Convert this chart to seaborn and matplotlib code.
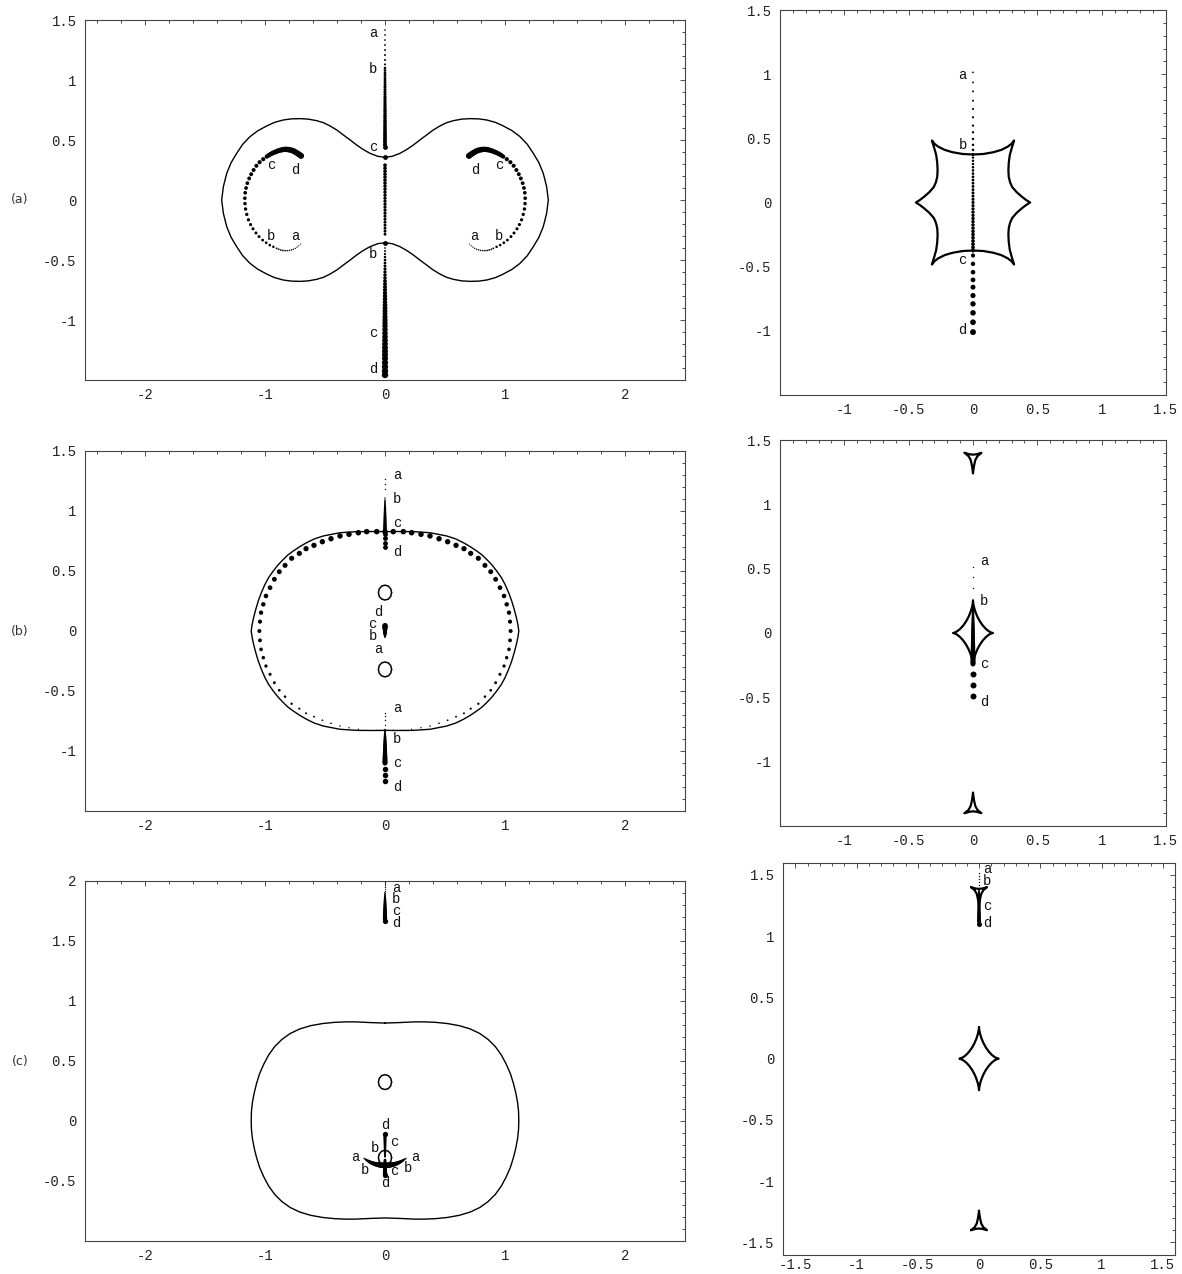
import numpy as np
import matplotlib
matplotlib.use("Agg")
import matplotlib.pyplot as plt
import seaborn as sns
from matplotlib.ticker import FixedLocator, FixedFormatter, MultipleLocator

# ---------------------------------------------------------------- data
# (a) left: critical curve, first quadrant (mirrored to the other three)
crit_a_qx = [0.0, 0.06, 0.125, 0.18, 0.236, 0.29, 0.347, 0.40, 0.458, 0.51, 0.569, 0.64, 0.708,
             0.78, 0.847, 0.92, 0.986, 1.06, 1.125, 1.185, 1.236, 1.283, 1.319, 1.347, 1.361]
crit_a_qy = [0.356, 0.364, 0.389, 0.42, 0.458, 0.50, 0.542, 0.582, 0.617, 0.643, 0.661, 0.674, 0.678,
             0.676, 0.667, 0.647, 0.617, 0.577, 0.528, 0.465, 0.389, 0.31, 0.222, 0.111, 0.0]
# (a) left: vertical image track
la_top_y = [1.417, 1.375, 1.333, 1.292, 1.25, 1.208, 1.167, 1.13]
la_b_y = [1.10, 1.08, 1.06, 1.04, 1.02, 1.0, 0.98, 0.96, 0.94, 0.92, 0.90, 0.88, 0.86, 0.84, 0.82, 0.80,
          0.78, 0.76, 0.74, 0.72, 0.70, 0.68, 0.66, 0.64, 0.62, 0.60, 0.58, 0.56, 0.54, 0.52, 0.50, 0.48, 0.46]
la_c_y = [0.44, 0.356, -0.356]
la_mid_y = [-0.285, -0.26, -0.235, -0.21, -0.185, -0.16, -0.135, -0.11, -0.085, -0.06, -0.035, -0.01,
            0.015, 0.04, 0.065, 0.09, 0.115, 0.14, 0.165, 0.19, 0.215, 0.24, 0.265, 0.29]
la_low_y = [-0.40, -0.425, -0.45, -0.475, -0.50, -0.525, -0.55, -0.575, -0.60, -0.625, -0.65, -0.675,
            -0.70, -0.725, -0.75, -0.775, -0.80, -0.825, -0.85, -0.875, -0.90, -0.925, -0.95, -0.975,
            -1.0, -1.025, -1.05, -1.08, -1.11, -1.14, -1.17, -1.20, -1.23, -1.26, -1.29, -1.32, -1.355,
            -1.39, -1.425, -1.458]
# (a) left: arc of images (right one; left one is its mirror)
arc_ab_x = [0.703, 0.718, 0.733, 0.748, 0.764, 0.780, 0.797, 0.815, 0.833, 0.851, 0.868, 0.886, 0.903]
arc_ab_y = [-0.367, -0.381, -0.393, -0.403, -0.411, -0.416, -0.420, -0.422, -0.422, -0.421, -0.417, -0.411, -0.403]
arc_bc_x = [0.930, 0.960, 0.990, 1.020, 1.050, 1.075, 1.100, 1.120, 1.138, 1.152, 1.162, 1.167, 1.168,
            1.165, 1.158, 1.147, 1.132, 1.115, 1.095, 1.072, 1.045, 1.015, 0.985]
arc_bc_y = [-0.390, -0.376, -0.356, -0.334, -0.305, -0.275, -0.240, -0.205, -0.165, -0.120, -0.075, -0.030,
            0.015, 0.060, 0.100, 0.140, 0.180, 0.215, 0.250, 0.285, 0.315, 0.340, 0.362]
arc_cd_x = [0.970, 0.955, 0.940, 0.925, 0.910, 0.895, 0.880, 0.865, 0.850, 0.835, 0.820, 0.805, 0.790,
            0.775, 0.760, 0.745, 0.730, 0.715, 0.700]
arc_cd_y = [0.372, 0.381, 0.389, 0.396, 0.402, 0.408, 0.413, 0.417, 0.420, 0.422, 0.422, 0.420, 0.417,
            0.413, 0.407, 0.398, 0.389, 0.379, 0.368]
la_labels = [("a", -0.10, 1.39), ("b", -0.10, 1.088), ("c", -0.10, 0.442), ("b", -0.10, -0.454),
             ("c", -0.10, -1.108), ("d", -0.10, -1.408),
             ("a", 0.744, -0.30), ("b", 0.95, -0.30), ("d", 0.75, 0.25), ("c", 0.95, 0.29),
             ("a", -0.744, -0.30), ("b", -0.95, -0.30), ("d", -0.75, 0.25), ("c", -0.95, 0.29)]

# (a) right: six-cusped caustic, first quadrant
caus_a_qx = [0.0, 0.08, 0.16, 0.22, 0.27, 0.30, 0.319, 0.300, 0.286, 0.278, 0.275, 0.278, 0.288, 0.305,
             0.34, 0.38, 0.415, 0.444]
caus_a_qy = [0.374, 0.378, 0.392, 0.41, 0.435, 0.458, 0.483, 0.42, 0.37, 0.31, 0.25, 0.20, 0.158, 0.12,
             0.08, 0.045, 0.018, 0.0]
ra_top_y = [1.014, 0.936, 0.866, 0.793, 0.729, 0.664, 0.599, 0.547, 0.495, 0.449, 0.41]
ra_mid_y = [0.375, 0.35, 0.325, 0.30, 0.275, 0.25, 0.225, 0.20, 0.175, 0.15, 0.125, 0.10, 0.075, 0.05,
            0.025, 0.0, -0.025, -0.05, -0.075, -0.10, -0.125, -0.15, -0.175, -0.20, -0.225, -0.25,
            -0.275, -0.30, -0.325, -0.35, -0.375]
ra_low_y = [-0.413, -0.478, -0.543, -0.603, -0.66, -0.725, -0.79, -0.86, -0.933, -1.01]
ra_labels = [("a", -0.08, 0.996), ("b", -0.08, 0.451), ("c", -0.08, -0.446), ("d", -0.08, -0.996)]

# (b) left
crit_b_qx = [0.0, 0.1, 0.236, 0.375, 0.514, 0.59, 0.653, 0.71, 0.764, 0.81, 0.847, 0.89, 0.931, 0.97,
             1.0, 1.03, 1.056, 1.077, 1.095, 1.108, 1.115]
crit_b_qy = [0.828, 0.829, 0.828, 0.819, 0.792, 0.767, 0.736, 0.703, 0.667, 0.633, 0.597, 0.552, 0.5,
             0.445, 0.389, 0.32, 0.25, 0.18, 0.111, 0.05, 0.0]
ring_qx = [0.0, 0.069, 0.153, 0.222, 0.300, 0.375, 0.450, 0.522, 0.592, 0.658, 0.714, 0.778, 0.833,
           0.881, 0.922, 0.958, 0.992, 1.014, 1.033, 1.042, 1.047]
ring_qy = [0.828, 0.828, 0.828, 0.819, 0.806, 0.792, 0.769, 0.744, 0.714, 0.686, 0.647, 0.606, 0.547,
           0.494, 0.431, 0.361, 0.292, 0.222, 0.153, 0.078, 0.0]
oval_dx = [0.055, 0.048, 0.028, 0.0, -0.028, -0.048, -0.055, -0.048, -0.028, 0.0, 0.028, 0.048, 0.055]
oval_dy = [0.0, 0.031, 0.054, 0.062, 0.054, 0.031, 0.0, -0.031, -0.054, -0.062, -0.054, -0.031, 0.0]
lb_oval_cy = [0.32, -0.32]
lb_up_tiny = [1.264, 1.222, 1.18]
lb_up_wedge = [1.11, 1.10, 1.09, 1.08, 1.07, 1.06, 1.05, 1.04, 1.03, 1.02, 1.01, 1.0, 0.99, 0.98, 0.97,
               0.96, 0.95, 0.94, 0.93, 0.92, 0.91, 0.90, 0.89, 0.88, 0.87, 0.86, 0.85, 0.84]
lb_up_big = [0.806, 0.772, 0.736, 0.70]
lb_lo_tiny = [-0.68, -0.71, -0.745, -0.78]
lb_lo_wedge = [-0.82, -0.83, -0.84, -0.85, -0.86, -0.87, -0.88, -0.89, -0.90, -0.91, -0.92, -0.93, -0.94,
               -0.95, -0.96, -0.97, -0.98, -0.99, -1.0, -1.01, -1.02, -1.03, -1.04, -1.05, -1.06, -1.07,
               -1.08, -1.09, -1.10]
lb_lo_big = [-1.15, -1.20, -1.253]
lb_drop = [-0.055, -0.05, -0.045, -0.04, -0.035, -0.03, -0.025, -0.02, -0.015, -0.01, -0.005, 0.0,
           0.005, 0.01, 0.015, 0.02, 0.025, 0.03, 0.035, 0.04, 0.045]
lb_labels = [("a", 0.10, 1.30), ("b", 0.10, 1.097), ("c", 0.10, 0.903), ("d", 0.10, 0.661),
             ("a", 0.10, -0.641), ("b", 0.10, -0.90), ("c", 0.10, -1.10), ("d", 0.10, -1.30),
             ("d", -0.056, 0.155), ("c", -0.104, 0.062), ("b", -0.104, -0.045), ("a", -0.056, -0.154)]

# (b) right: astroid quadrant (unit, from top cusp to side cusp) and small triangular caustics
astroid_ux = [0.0, 0.002224, 0.01734, 0.05604, 0.125, 0.22560, 0.35355, 0.49935, 0.64952, 0.78858,
              0.90122, 0.97454, 1.0]
astroid_uy = [1.0, 0.97454, 0.90122, 0.78858, 0.64952, 0.49935, 0.35355, 0.22560, 0.125, 0.05604,
              0.01734, 0.002224, 0.0]
astroid_b = (0.155, 0.25)
astroid_c = (0.16, 0.257)
delt_x = [-0.065, -0.03, 0.0, 0.03, 0.065, 0.035, 0.018, 0.008, 0.002, 0.0, -0.002, -0.008, -0.018, -0.035, -0.065]
delt_y = [1.40, 1.39, 1.386, 1.39, 1.40, 1.375, 1.345, 1.30, 1.26, 1.24, 1.26, 1.30, 1.345, 1.375, 1.40]
rb_tiny = [0.515, 0.438, 0.352]
rb_wedge = [0.26, 0.25, 0.24, 0.23, 0.22, 0.21, 0.20, 0.19, 0.18, 0.17, 0.16, 0.15, 0.14, 0.13, 0.12,
            0.11, 0.10, 0.09, 0.08, 0.07, 0.06, 0.05, 0.04, 0.03, 0.02, 0.01, 0.0, -0.01, -0.02, -0.03,
            -0.04, -0.05, -0.06, -0.07, -0.08, -0.09, -0.10, -0.11, -0.12, -0.13, -0.14, -0.15, -0.16,
            -0.17, -0.18, -0.19, -0.20, -0.21, -0.22, -0.23, -0.24]
rb_big = [-0.321, -0.404, -0.487]
rb_labels = [("a", 0.088, 0.562), ("b", 0.088, 0.251), ("c", 0.088, -0.241), ("d", 0.088, -0.534)]

# (c) left
crit_c_qx = [0.0, 0.12, 0.25, 0.323, 0.42, 0.52, 0.62, 0.71, 0.79, 0.86, 0.92, 0.97, 1.01, 1.045,
             1.07, 1.09, 1.105, 1.113, 1.115]
crit_c_qy = [0.812, 0.816, 0.822, 0.822, 0.818, 0.808, 0.79, 0.763, 0.725, 0.675, 0.615, 0.545, 0.47,
             0.39, 0.31, 0.23, 0.15, 0.075, 0.0]
lc_oval_cy = [0.32, -0.31]
lc_top_tiny = [1.99, 1.97, 1.95, 1.93, 1.915]
lc_top_wedge = [1.90, 1.89, 1.88, 1.87, 1.86, 1.85, 1.84, 1.83, 1.82, 1.81, 1.80, 1.79, 1.78, 1.77,
                1.76, 1.75, 1.74, 1.73, 1.72, 1.71, 1.70, 1.69, 1.68]
lc_top_big = [1.665]
lc_up_stem = [-0.30, -0.29, -0.28, -0.27, -0.26, -0.25, -0.24, -0.23, -0.22, -0.21, -0.20, -0.19,
              -0.18, -0.17, -0.16, -0.15, -0.14, -0.13, -0.12]
lc_up_big = [-0.11]
lc_lo_stem = [-0.33, -0.34, -0.35, -0.36, -0.37, -0.38, -0.39, -0.40, -0.41, -0.42, -0.43, -0.44]
lc_lo_big = [-0.455]
bowl_x = [0.175, 0.165, 0.155, 0.145, 0.135, 0.125, 0.115, 0.105, 0.095, 0.085, 0.075, 0.065, 0.055,
          0.045, 0.035, 0.025, 0.015]
bowl_y = [-0.315, -0.322, -0.329, -0.335, -0.341, -0.346, -0.351, -0.355, -0.359, -0.362, -0.365,
          -0.367, -0.369, -0.371, -0.372, -0.373, -0.373]
lc_labels = [("a", 0.093, 1.939), ("b", 0.093, 1.842), ("c", 0.093, 1.744), ("d", 0.093, 1.647),
             ("d", 0.005, -0.037), ("c", 0.081, -0.176), ("b", -0.085, -0.226), ("a", -0.25, -0.301),
             ("b", -0.167, -0.412), ("c", 0.075, -0.421), ("b", 0.195, -0.398), ("a", 0.256, -0.301),
             ("d", 0.005, -0.523)]

# (c) right
rc_tiny = [1.516, 1.49, 1.465, 1.44, 1.415, 1.395]
rc_col = [1.38, 1.37, 1.36, 1.35, 1.34, 1.33, 1.32, 1.31, 1.30, 1.29, 1.28, 1.27, 1.26, 1.25, 1.24,
          1.23, 1.22, 1.21, 1.20, 1.19, 1.18, 1.17, 1.16, 1.15, 1.14, 1.13, 1.12]
rc_big = [1.10]
rc_labels = [("a", 0.069, 1.549), ("b", 0.069, 1.453), ("c", 0.069, 1.248), ("d", 0.069, 1.106)]

# tick labels
left_x_ticks = [-2, -1, 0, 1, 2]
left_x_labels = ["-2", "-1", "0", "1", "2"]
ab_y_ticks = [-1.5, -1, -0.5, 0, 0.5, 1, 1.5]
ab_y_labels = ["", "-1", "-0.5", "0", "0.5", "1", "1.5"]
c_y_ticks = [-1, -0.5, 0, 0.5, 1, 1.5, 2]
c_y_labels = ["", "-0.5", "0", "0.5", "1", "1.5", "2"]
right_ticks = [-1.5, -1, -0.5, 0, 0.5, 1, 1.5]
right_labels = ["", "-1", "-0.5", "0", "0.5", "1", "1.5"]
rc_labels_ticks = ["-1.5", "-1", "-0.5", "0", "0.5", "1", "1.5"]
row_labels = ["(a)", "(b)", "(c)"]

# ---------------------------------------------------------------- drawing
sns.set_style("white")
plt.rcParams["font.family"] = ["Liberation Mono", "DejaVu Sans Mono"]
plt.rcParams["axes.unicode_minus"] = False

W, H = 1182, 1274
fig = plt.figure(figsize=(W / 100, H / 100), dpi=100)


def new_axes(left, top, w, h):
    return fig.add_axes([left / W, 1 - (top + h) / H, w / W, h / H])


def sz(d_px):
    return (0.72 * d_px * 1.15) ** 2


def mirror4(qx, qy):
    qx = np.asarray(qx); qy = np.asarray(qy)
    x = np.concatenate([qx, qx[::-1], -qx, -qx[::-1]])
    y = np.concatenate([qy, -qy[::-1], -qy, qy[::-1]])
    return x, y


def curve(ax, x, y, lw):
    sns.lineplot(x=np.asarray(x, float), y=np.asarray(y, float), sort=False, estimator=None,
                 color="black", lw=lw, ax=ax, legend=False)


def dots(ax, x, y, d0, d1=None):
    x = np.asarray(x, float); y = np.asarray(y, float)
    if d1 is None or len(x) == 1:
        sns.scatterplot(x=x, y=y, s=sz(d0), color="black", linewidth=0, ax=ax, legend=False)
    else:
        order = np.arange(len(x))
        sns.scatterplot(x=x, y=y, size=order, sizes=(sz(d0), sz(d1)), color="black",
                        linewidth=0, ax=ax, legend=False)


def vdots(ax, y, d0, d1=None):
    dots(ax, [0.0] * len(y), y, d0, d1)


def labels(ax, items):
    for t, x, y in items:
        ax.text(x, y, t, ha="center", va="center", fontsize=10, color="#111",
                family=["Liberation Mono", "DejaVu Sans Mono"])


def style(ax, xlim, ylim, xt, xl, yt, yl, xminor, yminor, xpad=6):
    ax.set_xlim(xlim); ax.set_ylim(ylim)
    ax.xaxis.set_major_locator(FixedLocator(xt)); ax.xaxis.set_major_formatter(FixedFormatter(xl))
    ax.yaxis.set_major_locator(FixedLocator(yt)); ax.yaxis.set_major_formatter(FixedFormatter(yl))
    ax.xaxis.set_minor_locator(MultipleLocator(xminor))
    ax.yaxis.set_minor_locator(MultipleLocator(yminor))
    ax.tick_params(which="both", direction="in", top=True, right=True, width=0.6,
                   color="#333", labelcolor="#222", labelsize=10)
    ax.tick_params(which="major", length=3.5)
    ax.tick_params(which="minor", length=2.0)
    ax.tick_params(axis="y", pad=6)
    ax.tick_params(axis="x", pad=xpad)
    for sp in ax.spines.values():
        sp.set_linewidth(0.8); sp.set_color("#444")
    ax.set_xlabel(""); ax.set_ylabel("")


def ovals(ax, centers):
    for cy in centers:
        curve(ax, oval_dx, np.asarray(oval_dy) + cy, 1.1)


def astroid(ax, ab):
    qx = np.asarray(astroid_ux) * ab[0]; qy = np.asarray(astroid_uy) * ab[1]
    x, y = mirror4(qx, qy)
    curve(ax, x, y, 1.6)


def deltoids(ax):
    curve(ax, delt_x, delt_y, 1.6)
    curve(ax, delt_x, -np.asarray(delt_y), 1.6)


# ---- (a) left
ax = new_axes(85, 20, 600, 360)
x, y = mirror4(crit_a_qx, crit_a_qy)
curve(ax, x, y, 1.0)
vdots(ax, la_top_y, 1.4, 1.8)
vdots(ax, la_b_y, 2.3, 3.5)
vdots(ax, la_c_y, 4.2)
vdots(ax, la_mid_y, 2.5, 3.2)
vdots(ax, la_low_y, 1.5, 5.6)
for sgn in (1, -1):
    dots(ax, sgn * np.asarray(arc_ab_x), arc_ab_y, 1.0, 1.6)
    dots(ax, sgn * np.asarray(arc_bc_x), arc_bc_y, 2.2, 3.7)
    dots(ax, sgn * np.asarray(arc_cd_x), arc_cd_y, 4.0, 5.3)
labels(ax, la_labels)
style(ax, (-2.5, 2.5), (-1.5, 1.5), left_x_ticks, left_x_labels, ab_y_ticks, ab_y_labels, 0.2, 0.1)

# ---- (a) right
ax = new_axes(780, 10, 386, 385)
x, y = mirror4(caus_a_qx, caus_a_qy)
curve(ax, x, y, 1.6)
vdots(ax, ra_top_y, 1.5, 2.2)
vdots(ax, ra_mid_y, 2.0, 3.3)
vdots(ax, ra_low_y, 3.6, 5.1)
labels(ax, ra_labels)
style(ax, (-1.5, 1.5), (-1.5, 1.5), right_ticks, right_labels, right_ticks, right_labels, 0.1, 0.1)

# ---- (b) left
ax = new_axes(85, 451, 600, 360)
x, y = mirror4(crit_b_qx, crit_b_qy)
curve(ax, x, y, 1.0)
rq_x = np.asarray(ring_qx); rq_y = np.asarray(ring_qy)
ring_x = np.concatenate([rq_x, rq_x[::-1][1:], -rq_x[1:], -rq_x[::-1][1:-1]])
ring_y = np.concatenate([rq_y, -rq_y[::-1][1:], rq_y[1:], -rq_y[::-1][1:-1]])
sns.scatterplot(x=ring_x, y=ring_y, size=ring_y, sizes=(sz(1.1), sz(4.8)), color="black",
                linewidth=0, ax=ax, legend=False)
ovals(ax, lb_oval_cy)
vdots(ax, lb_up_tiny, 1.2)
vdots(ax, lb_up_wedge, 1.0, 3.2)
vdots(ax, lb_up_big, 4.2)
vdots(ax, lb_lo_tiny, 1.2)
vdots(ax, lb_lo_wedge, 1.2, 4.4)
vdots(ax, lb_lo_big, 4.8)
vdots(ax, lb_drop, 0.8, 4.6)
labels(ax, lb_labels)
style(ax, (-2.5, 2.5), (-1.5, 1.5), left_x_ticks, left_x_labels, ab_y_ticks, ab_y_labels, 0.2, 0.1)

# ---- (b) right
ax = new_axes(780, 440, 386, 386)
astroid(ax, astroid_b)
deltoids(ax)
vdots(ax, rb_tiny, 1.2)
vdots(ax, rb_wedge, 1.0, 4.4)
vdots(ax, rb_big, 5.2)
labels(ax, rb_labels)
style(ax, (-1.5, 1.5), (-1.5, 1.5), right_ticks, right_labels, right_ticks, right_labels, 0.1, 0.1)

# ---- (c) left
ax = new_axes(85, 880.5, 600, 360)
x, y = mirror4(crit_c_qx, crit_c_qy)
curve(ax, x, y, 1.0)
ovals(ax, lc_oval_cy)
vdots(ax, lc_top_tiny, 1.1)
vdots(ax, lc_top_wedge, 1.2, 3.8)
vdots(ax, lc_top_big, 4.6)
vdots(ax, lc_up_stem, 1.8, 2.8)
vdots(ax, lc_up_big, 4.6)
vdots(ax, lc_lo_stem, 2.4, 3.8)
vdots(ax, lc_lo_big, 4.6)
for sgn in (1, -1):
    dots(ax, sgn * np.asarray(bowl_x), bowl_y, 1.2, 5.0)
labels(ax, lc_labels)
style(ax, (-2.5, 2.5), (-1.0, 2.0), left_x_ticks, left_x_labels, c_y_ticks, c_y_labels, 0.2, 0.1)

# ---- (c) right
ax = new_axes(783, 862.7, 392, 392)
astroid(ax, astroid_c)
deltoids(ax)
vdots(ax, rc_tiny, 1.2)
vdots(ax, rc_col, 1.6, 3.4)
vdots(ax, rc_big, 4.4)
labels(ax, rc_labels)
style(ax, (-1.6, 1.6), (-1.6, 1.6), right_ticks, rc_labels_ticks, right_ticks, rc_labels_ticks,
      0.1, 0.1, xpad=2.5)

# row labels
for lab, py in zip(row_labels, [200, 632, 1061]):
    fig.text(20 / W, 1 - py / H, lab, ha="center", va="center", fontsize=9, color="#333",
             family=["DejaVu Sans", "Liberation Sans"])

fig.savefig("out.png", dpi=100)
